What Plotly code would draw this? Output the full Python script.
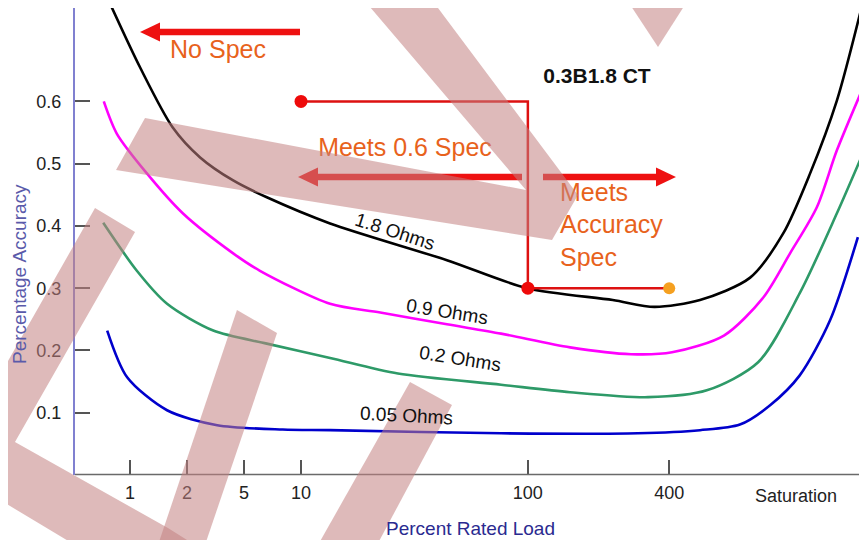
import plotly.graph_objects as go

# Horizontal axis is a non-linear "position" scale; ticks sit at these positions.
tick_labels = ["1", "2", "5", "10", "100", "400", "Saturation"]
tick_pos = [1, 2, 3, 4, 7.98, 10.46, 12.68]

# Accuracy curves (x in axis positions, y in percent accuracy)
ohm_18_x = [0.65, 1.18, 1.75, 2.23, 2.81, 3.40, 4.51, 6.56, 7.97, 9.47, 10.2, 11.0, 11.88, 12.46, 12.93, 13.40, 13.81]
ohm_18_y = [0.757, 0.654, 0.558, 0.510, 0.473, 0.446, 0.404, 0.345, 0.300, 0.281, 0.270, 0.281, 0.317, 0.388, 0.484, 0.601, 0.742]

ohm_09_x = [0.54, 0.77, 1.30, 1.93, 2.81, 3.28, 4.51, 5.39, 6.56, 7.51, 8.72, 9.79, 10.51, 11.42, 12.11, 12.58, 13.05, 13.40, 13.86]
ohm_09_y = [0.600, 0.548, 0.484, 0.420, 0.356, 0.328, 0.275, 0.261, 0.242, 0.227, 0.205, 0.194, 0.197, 0.224, 0.285, 0.356, 0.430, 0.521, 0.622]

ohm_02_x = [0.53, 1.12, 1.65, 2.46, 3.40, 4.51, 5.70, 7.51, 8.72, 10.09, 11.12, 12.02, 12.75, 13.40, 13.93]
ohm_02_y = [0.405, 0.328, 0.275, 0.232, 0.211, 0.188, 0.163, 0.145, 0.133, 0.125, 0.136, 0.181, 0.292, 0.420, 0.532]

ohm_005_x = [0.60, 0.95, 1.65, 2.53, 3.68, 4.51, 7.51, 9.91, 11.0, 11.70, 12.23, 12.75, 13.28, 13.77]
ohm_005_y = [0.232, 0.157, 0.104, 0.080, 0.073, 0.072, 0.067, 0.067, 0.072, 0.081, 0.112, 0.160, 0.248, 0.382]

# 0.3B1.8 spec path: 0.6 at 10 %, 0.3 from 100 % to 400 %
spec_loads = ["10", "100", "100", "400"]
spec_acc = [0.6, 0.6, 0.3, 0.3]

X_RANGE = [0.035, 13.93]
Y_RANGE = [0, 0.75]
# the page body adds an 8px margin, so the figure is laid out 8px smaller
OFF = 8
W, H = 867 - OFF, 540 - OFF
L, R, T, B = 75 - OFF, 0, 0, 65
FONT = "Liberation Sans, Arial, sans-serif"
ORANGE = "#e8621c"
RED = "#ee1111"
WATERMARK = "rgba(195,130,130,0.55)"

PLOT_W = W - L - R
PLOT_H = H - T - B


def paper(px, py):
    """Pixel position in the reference picture -> paper coordinates."""
    return (px - OFF - L) / PLOT_W, (H - B - (py - OFF)) / PLOT_H


def data(px, py):
    """Pixel position in the reference picture -> data coordinates."""
    xp, yp = paper(px, py)
    return (X_RANGE[0] + xp * (X_RANGE[1] - X_RANGE[0]),
            Y_RANGE[0] + yp * (Y_RANGE[1] - Y_RANGE[0]))


def poly(points):
    parts = []
    for i, (px, py) in enumerate(points):
        xp, yp = paper(px, py)
        parts.append(("M" if i == 0 else "L") + f"{xp:.4f},{yp:.4f}")
    return " ".join(parts) + " Z"


def arrow(x_tail, x_tip, y, head_len=20, half_shaft=3.2, half_head=9.5):
    sign = 1 if x_tip > x_tail else -1
    base = x_tip - sign * head_len
    shaft = poly([(x_tail, y - half_shaft), (base, y - half_shaft),
                  (base, y + half_shaft), (x_tail, y + half_shaft)])
    head = poly([(base, y - half_head), (x_tip, y), (base, y + half_head)])
    return [dict(type="path", path=p, xref="paper", yref="paper", fillcolor=RED,
                 line=dict(width=0), layer="above") for p in (shaft, head)]


def label(text, px, py, size, color, angle=0):
    xp, yp = paper(px, py)
    fig.add_annotation(x=xp, y=yp, xref="paper", yref="paper", text=text, showarrow=False,
                       xanchor="center", yanchor="middle", textangle=angle,
                       font=dict(size=size, color=color, family=FONT))


pos = dict(zip(tick_labels, tick_pos))

fig = go.Figure()

curves = [
    (ohm_18_x, ohm_18_y, "#000000"),
    (ohm_09_x, ohm_09_y, "#ff00ff"),
    (ohm_02_x, ohm_02_y, "#2e9a68"),
    (ohm_005_x, ohm_005_y, "#0000cc"),
]
for xs, ys, color in curves:
    fig.add_scatter(x=xs, y=ys, mode="lines", line=dict(color=color, width=2.6, shape="spline", smoothing=0.8),
                    hoverinfo="skip", showlegend=False)

spec_x = [pos[s] for s in spec_loads]
fig.add_scatter(x=spec_x, y=spec_acc, mode="lines", line=dict(color="#dd1111", width=2.5),
                hoverinfo="skip", showlegend=False)
fig.add_scatter(x=[spec_x[0], spec_x[2]], y=[spec_acc[0], spec_acc[2]], mode="markers",
                marker=dict(color="#ee0a0a", size=13), cliponaxis=False, hoverinfo="skip", showlegend=False)
fig.add_scatter(x=[spec_x[3]], y=[spec_acc[3]], mode="markers",
                marker=dict(color="#f5a020", size=12), cliponaxis=False, hoverinfo="skip", showlegend=False)

# Plain text labels drawn as traces so the watermark sits over them
texts = [
    ("No Spec", 218, 52, "middle center", ORANGE, 25),
    ("Meets 0.6 Spec", 405, 150, "middle center", ORANGE, 25),
    ("Meets<br>Accuracy<br>Spec", 560, 227, "middle right", ORANGE, 25),
    ("<b>0.3B1.8 CT</b>", 597, 78, "middle center", "#111111", 21),
]
for txt, tx, ty, tpos, color, size in texts:
    dx, dy = data(tx, ty)
    fig.add_scatter(x=[dx], y=[dy], mode="text", text=[txt], textposition=tpos,
                    textfont=dict(color=color, size=size, family=FONT),
                    cliponaxis=False, hoverinfo="skip", showlegend=False)

# Rotated curve labels
for txt, tx, ty, ang in [
    ("1.8 Ohms", 395, 231, 18),
    ("0.9 Ohms", 447, 311, 9),
    ("0.2 Ohms", 460, 358, 9),
    ("0.05 Ohms", 406, 416, 3),
]:
    label(txt, tx, ty, 19, "#111111", ang)

# Axis titles and the un-ticked Saturation label
label("Percentage Accuracy", 19, 274, 19, "#5a5aaa", -90)
label("Percent Rated Load", 470, 528, 19, "#2a2a90")
_, yp = paper(0, 496)
fig.add_annotation(x=tick_pos[-1], y=yp, xref="x", yref="paper", text=tick_labels[-1],
                   showarrow=False, xanchor="center", yanchor="middle",
                   font=dict(size=18, color="#222222", family=FONT))

shapes = []
# x axis line (stops short of the right edge)
x0, y0 = paper(75, 474.5)
x1, _ = paper(860, 474.5)
shapes.append(dict(type="line", xref="paper", yref="paper", x0=x0, x1=x1, y0=y0, y1=y0,
                   line=dict(color="#6a6a6a", width=1.5), layer="above"))
shapes += arrow(300, 140, 32)
shapes += arrow(522, 298, 177)
shapes += arrow(543, 676, 177)

# Watermark bands
for pts in [
    [(364, 0), (432, 0), (578, 195), (552, 240), (116, 170), (145, 118), (526, 190)],
    [(627, 0), (688, 0), (658, 47)],
    [(95, 208), (135, 232), (15, 442), (168, 528), (195, 545), (75, 545), (0, 500), (0, 375)],
    [(237, 310), (277, 333), (205, 545), (158, 545)],
    [(410, 382), (452, 405), (377, 545), (318, 545)],
]:
    shapes.append(dict(type="path", path=poly(pts), xref="paper", yref="paper",
                       fillcolor=WATERMARK, line=dict(width=0), layer="above"))

fig.update_layout(
    width=W, height=H,
    margin=dict(l=L, r=R, t=T, b=B, autoexpand=False),
    paper_bgcolor="white", plot_bgcolor="white",
    font=dict(family=FONT, size=18, color="#222222"),
    showlegend=False,
    shapes=shapes,
    xaxis=dict(range=X_RANGE, showgrid=False, zeroline=False, showline=False,
               tickmode="array", tickvals=tick_pos[:-1], ticktext=tick_labels[:-1],
               ticks="inside", ticklen=15, tickwidth=1.5, tickcolor="#555555",
               ticklabelstandoff=5, fixedrange=True),
    yaxis=dict(range=Y_RANGE, showgrid=False, zeroline=False, showline=True,
               linecolor="#8080d0", linewidth=2,
               tickmode="array", tickvals=[0.1, 0.2, 0.3, 0.4, 0.5, 0.6],
               ticktext=["0.1", "0.2", "0.3", "0.4", "0.5", "0.6"],
               ticks="inside", ticklen=15, tickwidth=1.5, tickcolor="#555555",
               ticklabelstandoff=8, fixedrange=True),
)

fig.write_html("out.html")
